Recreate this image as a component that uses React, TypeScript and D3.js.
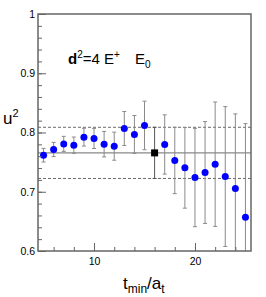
import React, { useEffect, useRef } from "react";
import * as d3 from "d3";

// scan points (t_min / a_t) and fitted u^2 with errors
const tmin = [5, 6, 7, 8, 9, 10, 11, 12, 13, 14, 15, 17, 18, 19, 20, 21, 22, 23, 24, 25];
const u2 = [0.7617, 0.7713, 0.7808, 0.7786, 0.7921, 0.790, 0.7803, 0.7769, 0.8068, 0.7967, 0.8119,
  0.7798, 0.7528, 0.7403, 0.724, 0.7325, 0.7465, 0.7257, 0.7054, 0.657];
const u2err = [0.0115, 0.012, 0.0127, 0.0137, 0.015, 0.017, 0.0215, 0.0237, 0.0287, 0.032, 0.041,
  0.05, 0.056, 0.068, 0.083, 0.086, 0.105, 0.118, 0.126, 0.158];

// chosen fit point
const fitT = 16;
const fitVal = 0.7656;
const fitErr = 0.0432;

const yMajor = [0.6, 0.7, 0.8, 0.9, 1.0];
const xMajor = [10, 20];

export default function App() {
  const ref = useRef<SVGSVGElement>(null);

  useEffect(() => {
    const W = 266, H = 297;
    const margin = { top: 14, right: 15, bottom: 46, left: 38 };
    const width = W - margin.left - margin.right;
    const height = H - margin.top - margin.bottom;

    const svg = d3.select(ref.current);
    svg.selectAll("*").remove();
    const g = svg.append("g").attr("transform", `translate(${margin.left},${margin.top})`);

    const x = d3.scaleLinear().domain([4.45, 25.55]).range([0, width]);
    const y = d3.scaleLinear().domain([0.6, 1.0]).range([height, 0]);

    g.append("clipPath").attr("id", "plotclip")
      .append("rect").attr("width", width).attr("height", height);

    const font = "'Liberation Sans', Arial, Helvetica, sans-serif";
    const axisCol = "#666";

    // fit band lines
    const lines = g.append("g").attr("clip-path", "url(#plotclip)");
    lines.append("line")
      .attr("x1", 0).attr("x2", width)
      .attr("y1", y(fitVal)).attr("y2", y(fitVal))
      .attr("stroke", "#888").attr("stroke-width", 1.2);
    [fitVal + fitErr, fitVal - fitErr].forEach(v => {
      lines.append("line")
        .attr("x1", 0).attr("x2", width)
        .attr("y1", y(v)).attr("y2", y(v))
        .attr("stroke", "#444").attr("stroke-width", 0.8)
        .attr("stroke-dasharray", "3,2");
    });

    // error bars
    const eb = g.append("g").attr("clip-path", "url(#plotclip)");
    tmin.forEach((t, i) => {
      const cx = x(t);
      const lo = y(u2[i] - u2err[i]), hi = y(u2[i] + u2err[i]);
      eb.append("line").attr("x1", cx).attr("x2", cx).attr("y1", lo).attr("y2", hi)
        .attr("stroke", "#8a8a8a").attr("stroke-width", 1);
      [lo, hi].forEach(yy => {
        eb.append("line").attr("x1", cx - 2).attr("x2", cx + 2).attr("y1", yy).attr("y2", yy)
          .attr("stroke", "#8a8a8a").attr("stroke-width", 1);
      });
    });
    {
      const cx = x(fitT);
      const lo = y(fitVal - fitErr), hi = y(fitVal + fitErr);
      eb.append("line").attr("x1", cx).attr("x2", cx).attr("y1", lo).attr("y2", hi)
        .attr("stroke", "#555").attr("stroke-width", 1);
      [lo, hi].forEach(yy => {
        eb.append("line").attr("x1", cx - 2).attr("x2", cx + 2).attr("y1", yy).attr("y2", yy)
          .attr("stroke", "#555").attr("stroke-width", 1);
      });
    }

    // markers
    g.selectAll("circle.pt")
      .data(tmin)
      .enter()
      .append("circle")
      .attr("class", "pt")
      .attr("cx", d => x(d))
      .attr("cy", (d, i) => y(u2[i]))
      .attr("r", 3.5)
      .attr("fill", "#0000ff");
    g.append("rect")
      .attr("x", x(fitT) - 3.5).attr("y", y(fitVal) - 3.5)
      .attr("width", 7).attr("height", 7)
      .attr("fill", "#000");

    // axes
    const yMinor = d3.range(0.6, 1.0001, 0.02);
    const xMinor = d3.range(6, 25, 2);

    g.append("g")
      .call(d3.axisLeft(y).tickValues(yMinor).tickSize(-4).tickFormat(() => ""))
      .call(a => a.select(".domain").remove())
      .selectAll("line").attr("stroke", axisCol);
    const yAx = g.append("g")
      .call(d3.axisLeft(y).tickValues(yMajor).tickSizeInner(-8).tickSizeOuter(0).tickPadding(3)
        .tickFormat(d => d3.format("")(+(+d).toFixed(1))));
    yAx.select(".domain").remove();
    yAx.selectAll("line").attr("stroke", axisCol);
    yAx.selectAll("text").attr("font-family", font).attr("font-size", 10.5).attr("fill", "#000");

    g.append("g").attr("transform", `translate(0,${height})`)
      .call(d3.axisBottom(x).tickValues(xMinor).tickSize(-4).tickFormat(() => ""))
      .call(a => a.select(".domain").remove())
      .selectAll("line").attr("stroke", axisCol);
    const xAx = g.append("g").attr("transform", `translate(0,${height})`)
      .call(d3.axisBottom(x).tickValues(xMajor).tickSizeInner(-8).tickSizeOuter(0).tickPadding(7));
    xAx.select(".domain").remove();
    xAx.selectAll("line").attr("stroke", axisCol);
    xAx.selectAll("text").attr("font-family", font).attr("font-size", 10.5).attr("fill", "#000");

    // frame
    g.append("rect")
      .attr("width", width).attr("height", height)
      .attr("fill", "none").attr("stroke", axisCol).attr("stroke-width", 1.5);

    // axis titles
    const yt = svg.append("text")
      .attr("x", 3).attr("y", 124)
      .attr("font-family", font).attr("font-size", 17);
    yt.append("tspan").text("u");
    yt.append("tspan").attr("dy", -7).attr("font-size", 11).text("2");

    const xt = svg.append("text")
      .attr("x", 123).attr("y", 289)
      .attr("font-family", font).attr("font-size", 17);
    xt.append("tspan").text("t");
    xt.append("tspan").attr("dy", 4).attr("font-size", 12).text("min");
    xt.append("tspan").attr("dy", -4).text("/a");
    xt.append("tspan").attr("dy", 4).attr("font-size", 12).text("t");

    // label
    const lab = svg.append("text")
      .attr("x", 68).attr("y", 64)
      .attr("font-family", font).attr("font-size", 15);
    lab.append("tspan").attr("font-weight", "bold").text("d");
    lab.append("tspan").attr("dy", -6).attr("font-size", 10).text("2");
    lab.append("tspan").attr("dy", 6).text("=4 E");
    lab.append("tspan").attr("dy", -6).attr("font-size", 10).text("+");
    lab.append("tspan").attr("x", 135).attr("dy", 6).text("E");
    lab.append("tspan").attr("dy", 4).attr("font-size", 10).text("0");
  }, []);

  return (
    <svg ref={ref} width={266} height={297}
      style={{ position: "absolute", left: 0, top: 0, background: "#fff" }} />
  );
}
